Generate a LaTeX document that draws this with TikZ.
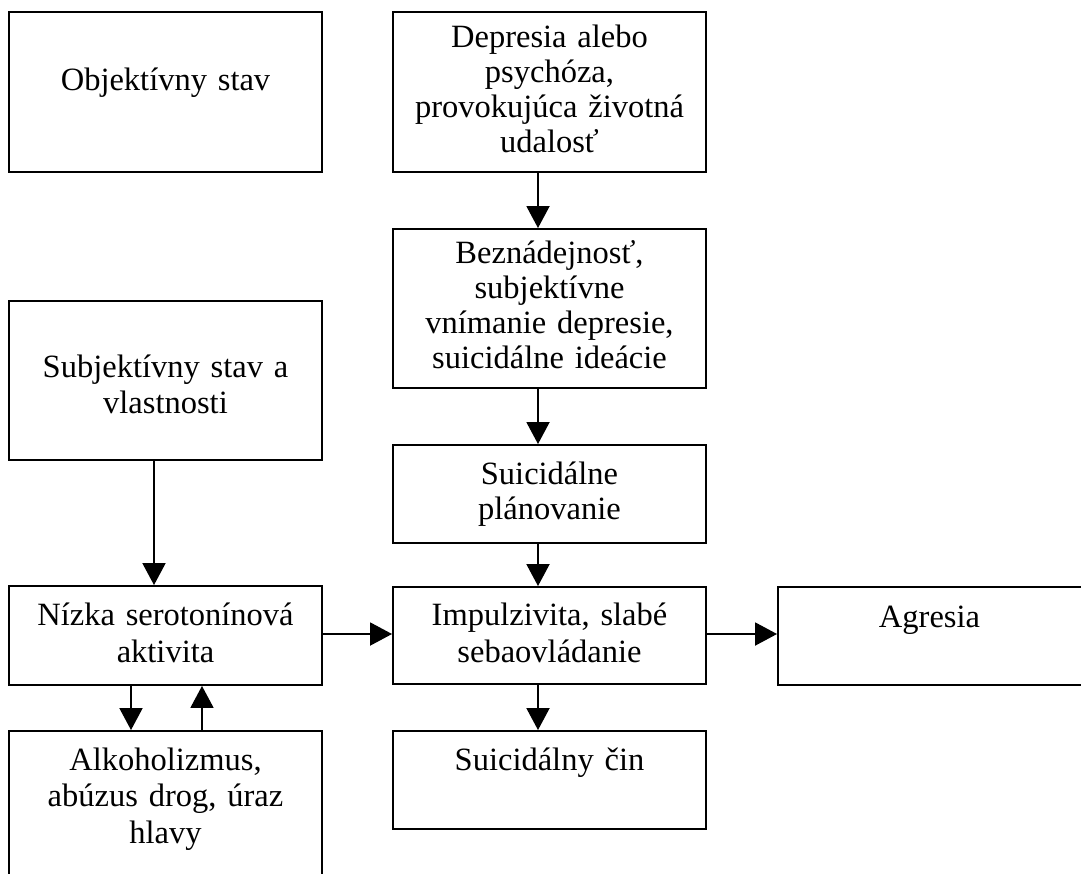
\documentclass[tikz,border=0pt]{standalone}
\usepackage{fontspec}
\setmainfont{Liberation Serif}
\usetikzlibrary{arrows.meta}

\tikzset{
  box/.style={draw=black, line width=1.9pt, rectangle, inner sep=0pt},
  txt/.style={inner sep=0pt, align=center, text width=300pt, anchor=base,
              font=\fontsize{32.5}{36.7}\selectfont},
  tight/.style={font=\fontsize{32.5}{35}\selectfont},
  arr/.style={line width=1.9pt, -{Triangle[length=22pt,width=23pt]}}
}

\begin{document}
\begin{tikzpicture}[x=1pt, y=-1pt]
  \fill[white] (0,0) rectangle (1081,873);
  \useasboundingbox (0,0) rectangle (1081,873);
  \clip (0,0) rectangle (1081,873);

  % left column
  \node[box, minimum width=313pt, minimum height=160pt] (obj) at (165.5,92) {};
  \node[box, minimum width=313pt, minimum height=159pt] (subj) at (165.5,380.5) {};
  \node[box, minimum width=313pt, minimum height=99pt] (sero) at (165.5,635.5) {};
  \node[box, minimum width=313pt, minimum height=200pt] (alko) at (165.5,831) {};

  % middle column
  \node[box, minimum width=313pt, minimum height=160pt] (dep) at (549.5,92) {};
  \node[box, minimum width=313pt, minimum height=159pt] (bez) at (549.5,308.5) {};
  \node[box, minimum width=313pt, minimum height=98pt] (plan) at (549.5,494) {};
  \node[box, minimum width=313pt, minimum height=97pt] (imp) at (549.5,635.5) {};
  \node[box, minimum width=313pt, minimum height=98pt] (cin) at (549.5,780) {};

  % right column
  \node[box, minimum width=340pt, minimum height=98pt] (agr) at (948,636) {};

  % labels
  \node[txt] (objt) at (165.5,90) {Objektívny stav};
  \node[txt] (subjt) at (165.5,377) {Subjektívny stav a\\vlastnosti};
  \node[txt] (serot) at (165.5,625.7) {Nízka serotonínová\\aktivita};
  \node[txt] (alkot) at (165.5,770) {Alkoholizmus,\\abúzus drog, úraz\\hlavy};

  \node[txt, tight] (dept) at (549.5,47) {Depresia alebo\\psychóza,\\provokujúca životná\\udalosť};
  \node[txt, tight] (bezt) at (549.5,263) {Beznádejnosť,\\subjektívne\\vnímanie depresie,\\suicidálne ideácie};
  \node[txt, tight] (plant) at (549.5,484) {Suicidálne\\plánovanie};
  \node[txt] (impt) at (549.5,625.7) {Impulzivita, slabé\\sebaovládanie};
  \node[txt] (cint) at (549.5,770) {Suicidálny čin};

  \node[txt] (agrt) at (929.5,627) {Agresia};

  % connectors
  \draw[arr] ([xshift=-11.5pt]dep.south) -- ([xshift=-11.5pt]bez.north);
  \draw[arr] ([xshift=-11.5pt]bez.south) -- ([xshift=-11.5pt]plan.north);
  \draw[arr] ([xshift=-11.5pt]plan.south) -- ([xshift=-11.5pt]imp.north);
  \draw[arr] ([xshift=-11.5pt]imp.south) -- ([xshift=-11.5pt]cin.north);
  \draw[arr] ([xshift=-11.5pt]subj.south) -- ([xshift=-11.5pt]sero.north);
  \draw[arr] ([xshift=-34.5pt]sero.south) -- ([xshift=-34.5pt]alko.north);
  \draw[arr] ([xshift=36.5pt]alko.north) -- ([xshift=36.5pt]sero.south);
  \draw[arr] ([yshift=1.5pt]sero.east) -- ([yshift=1.5pt]sero.east -| imp.west);
  \draw[arr] ([yshift=1.5pt]imp.east) -- ([yshift=1.5pt]imp.east -| agr.west);
\end{tikzpicture}
\end{document}
